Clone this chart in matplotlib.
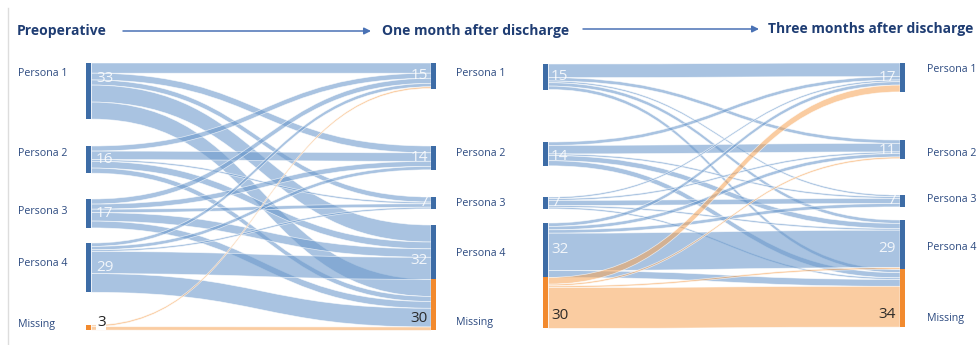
import matplotlib
matplotlib.use("Agg")
import matplotlib.pyplot as plt
from matplotlib.path import Path
from matplotlib.patches import PathPatch, Rectangle, FancyArrowPatch

# ---- data -------------------------------------------------------------
categories = ["Persona 1", "Persona 2", "Persona 3", "Persona 4", "Missing"]
stages = ["Preoperative", "One month after discharge", "Three months after discharge"]

preop = [33, 16, 17, 29, 3]
month1 = [15, 14, 7, 32, 30]
month3 = [17, 11, 7, 29, 34]

# transitions: rows = earlier state, columns = later state
preop_to_month1 = [
    [6, 4, 3, 10, 10],
    [3, 5, 1, 4, 3],
    [3, 3, 2, 5, 4],
    [2, 2, 1, 13, 11],
    [1, 0, 0, 0, 2],
]
month1_to_month3 = [
    [8, 2, 1, 2, 2],
    [2, 5, 1, 3, 3],
    [1, 1, 3, 1, 1],
    [2, 2, 2, 22, 4],
    [4, 1, 0, 1, 24],
]

# ---- style / layout ---------------------------------------------------
PX = 1.7  # pixels per patient
BLUE_NODE = "#3d6ca6"
ORANGE_NODE = "#f28a2e"
BLUE_BAND = (0.42, 0.60, 0.80, 0.58)
ORANGE_BAND = (0.97, 0.64, 0.33, 0.55)
LABEL_C = "#2c4a80"
TITLE_C = "#1f3d73"

font = ["Open Sans", "DejaVu Sans"]
plt.rcParams["font.family"] = font

fig = plt.figure(figsize=(9.79, 3.45), dpi=100)
ax = fig.add_axes([0, 0, 1, 1])
ax.set_xlim(0, 979)
ax.set_ylim(345, 0)
ax.axis("off")


def band(ax, x0, x1, ys0, ys1, yt0, yt1, color):
    xm = (x0 + x1) / 2
    verts = [
        (x0, ys0), (xm, ys0), (xm, yt0), (x1, yt0),
        (x1, yt1),
        (xm, yt1), (xm, ys1), (x0, ys1),
        (x0, ys0),
    ]
    codes = [Path.MOVETO, Path.CURVE4, Path.CURVE4, Path.CURVE4,
             Path.LINETO,
             Path.CURVE4, Path.CURVE4, Path.CURVE4,
             Path.CLOSEPOLY]
    ax.add_patch(PathPatch(Path(verts, codes), facecolor=color,
                           edgecolor=(1, 1, 1, 0.7), lw=0.5))


def sankey(ax, flows, src_tops, tgt_tops, xs, xt, bar_w):
    n = len(flows)
    src_off = [0.0] * n
    tgt_off = [0.0] * n
    segs = []
    for i in range(n):
        for j in range(n):
            v = flows[i][j]
            if v <= 0:
                continue
            ys0 = src_tops[i] + src_off[i] * PX
            yt0 = tgt_tops[j] + tgt_off[j] * PX
            segs.append((i, ys0, ys0 + v * PX, yt0, yt0 + v * PX))
            src_off[i] += v
            tgt_off[j] += v
    # blue bands first, orange on top
    for i, ys0, ys1, yt0, yt1 in sorted(segs, key=lambda s: s[0] == n - 1):
        col = ORANGE_BAND if i == n - 1 else BLUE_BAND
        band(ax, xs + bar_w, xt, ys0, ys1, yt0, yt1, col)
    src_tot = [sum(r) for r in flows]
    tgt_tot = [sum(flows[i][j] for i in range(n)) for j in range(n)]
    for k in range(n):
        c = ORANGE_NODE if k == n - 1 else BLUE_NODE
        ax.add_patch(Rectangle((xs, src_tops[k]), bar_w, src_tot[k] * PX, color=c, lw=0))
        ax.add_patch(Rectangle((xt, tgt_tops[k]), bar_w, tgt_tot[k] * PX, color=c, lw=0))


# node tops (pixels) for each column
preop_tops = [63, 146, 199, 243, 325]
m1_tops_a = [63, 146, 197, 225, 279.4]
m1_tops_b = [64, 142, 197, 223, 277.4]
m3_tops = [63, 140, 195, 220, 269.3]

sankey(ax, preop_to_month1, preop_tops, m1_tops_a, 86, 431, 5.5)
sankey(ax, month1_to_month3, m1_tops_b, m3_tops, 543, 900, 5.5)


def counts(values, tops, x, ha, fracs):
    last = len(categories) - 1
    for k, v in enumerate(values):
        y = tops[k] + v * PX * fracs[k]
        dark = k == last
        ax.text(x, y, str(v), ha=ha, va="center", fontsize=11,
                color="#222222" if dark else "white", alpha=0.95 if dark else 0.85)


counts(preop[:4], preop_tops, 96, "left", [0.27, 0.5, 0.5, 0.5])
ax.text(97, 322, str(preop[4]), ha="left", va="center", fontsize=11, color="#222222",
        bbox=dict(facecolor="white", edgecolor="none", pad=0.5))
counts(month1, m1_tops_a, 428, "right", [0.5, 0.5, 0.5, 0.66, 0.76])
counts(month1, m1_tops_b, 551, "left", [0.5, 0.6, 0.5, 0.48, 0.75])
counts(month3, m3_tops, 896, "right", [0.5, 0.55, 0.5, 0.57, 0.78])

# category labels beside each column
lab_left_y = [73, 154, 211, 263, 325]
lab_mid_y = [73, 153, 203, 254, 322]
lab_right_y = [69, 153, 199, 248, 318]
for k, name in enumerate(categories):
    ax.text(18, lab_left_y[k], name, ha="left", va="center", fontsize=7.7, color=LABEL_C)
    ax.text(456, lab_mid_y[k], name, ha="left", va="center", fontsize=7.7, color=LABEL_C)
    ax.text(927, lab_right_y[k], name, ha="left", va="center", fontsize=7.7, color=LABEL_C)

# stage headers with connecting arrows
ax.text(17, 31, stages[0], ha="left", va="center", fontsize=10, fontweight="bold", color=TITLE_C)
ax.text(382, 31, stages[1], ha="left", va="center", fontsize=10, fontweight="bold", color=TITLE_C)
ax.text(768, 29, stages[2], ha="left", va="center", fontsize=10, fontweight="bold", color=TITLE_C)
for x0, x1, y in [(123, 371, 31), (583, 759, 29)]:
    ax.add_patch(FancyArrowPatch((x0, y), (x1, y), arrowstyle="-|>", mutation_scale=10,
                                 color="#4a72b5", lw=1.1, shrinkA=0, shrinkB=0))

ax.plot([8, 8], [8, 345], color="#dddddd", lw=1)

fig.savefig("out.png", dpi=100)
